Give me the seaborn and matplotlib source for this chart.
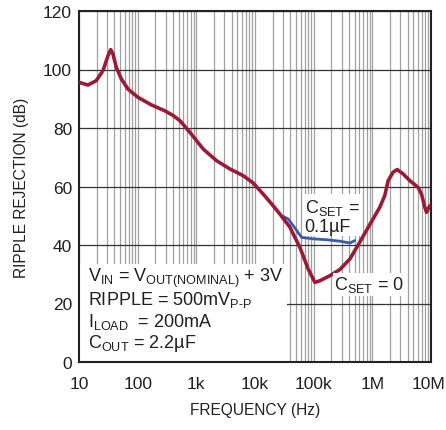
import numpy as np
import pandas as pd
import matplotlib
matplotlib.use("Agg")
import matplotlib.pyplot as plt
import matplotlib.ticker as mticker
import matplotlib.transforms as mtrans
from matplotlib.patches import Rectangle
import seaborn as sns

# C_SET = 0 curve
freq_c0 = [10, 14.2, 19.7, 25.6, 31.2, 34.7, 37.9, 43.2, 52.6, 68.4, 101,
           171, 289, 400, 526, 778, 1312, 2218, 3736, 6290, 9310, 13800,
           20400, 26500, 39300, 58200, 80600, 105000, 128000, 189000,
           279000, 414000, 612000, 906000, 1340000, 1630000, 1860000,
           2260000, 2650000, 3350000, 4350000, 6030000, 6890000, 7840000,
           8380000, 8930000, 9550000, 10000000]
rej_c0 = [95.6, 94.7, 96.2, 99.6, 104.7, 106.8, 105.3, 100.8, 96.8, 93.3,
          90.5, 87.9, 85.9, 84.3, 82.5, 78.5, 72.8, 68.8, 66, 63.7, 61.2,
          57.4, 53.4, 50.6, 46.1, 39.2, 31.8, 27.2, 27.8, 29.5, 31.6, 35.2,
          41, 47, 52.9, 56.9, 62, 64.9, 65.8, 64.3, 62, 59.7, 57.4, 52.9,
          51.2, 52.3, 53.4, 53.6]

# C_SET = 0.1uF curve (only where it leaves the other one)
freq_c1 = [30000, 36800, 47900, 62200, 98100, 166000, 279000, 414000,
           503000]
rej_c1 = [49.8, 48.9, 45.8, 42.6, 42.1, 41.8, 41.3, 40.7, 41.5]

x_ticks = [10, 100, 1e3, 1e4, 1e5, 1e6, 1e7]
x_labels = ["10", "100", "1k", "10k", "100k", "1M", "10M"]
y_ticks = [0, 20, 40, 60, 80, 100, 120]

RED = "#9b1b36"
BLUE = "#3b5ba9"
INK = "#231f20"

sns.set_style("white")
plt.rcParams["font.family"] = ["Liberation Sans", "DejaVu Sans"]
plt.rcParams["mathtext.fontset"] = "custom"
plt.rcParams["mathtext.rm"] = "Liberation Sans"
plt.rcParams["mathtext.default"] = "regular"
plt.rcParams["text.color"] = INK
plt.rcParams["axes.labelcolor"] = INK
plt.rcParams["xtick.color"] = INK
plt.rcParams["ytick.color"] = INK

df_c0 = pd.DataFrame({"freq": freq_c0, "rej": rej_c0})
df_c1 = pd.DataFrame({"freq": freq_c1, "rej": rej_c1})

fig = plt.figure(figsize=(4.46, 4.31), dpi=100)
pos = [79 / 446, 68 / 431, 352 / 446, 351 / 431]
ax = fig.add_axes(pos)

ax.set_xscale("log")
ax.set_xlim(10, 1e7)
ax.set_ylim(0, 120)

ax.set_xticks(x_ticks)
ax.set_xticklabels(x_labels)
ax.xaxis.set_minor_locator(mticker.LogLocator(base=10, subs=np.arange(2, 10),
                                              numticks=100))
ax.xaxis.set_minor_formatter(mticker.NullFormatter())
ax.set_yticks(y_ticks)

ax.set_axisbelow(True)
ax.grid(which="major", axis="y", color="#333333", lw=0.9)
ax.grid(which="both", axis="x", color="#a0a0a0", lw=0.9)

# white box behind the conditions text
ax.add_patch(Rectangle((10, 0), 35000 - 10, 33.5, facecolor="white",
                       edgecolor="none", zorder=0.7))

sns.lineplot(data=df_c1, x="freq", y="rej", ax=ax, color=BLUE, lw=2,
             sort=False, zorder=3)
sns.lineplot(data=df_c0, x="freq", y="rej", ax=ax, color=RED, lw=2.6,
             sort=False, zorder=4)

ax.tick_params(labelsize=12.5, direction="in", length=0)
ax.tick_params(axis="x", pad=10)
ax.tick_params(axis="y", pad=5)
ax.tick_params(which="minor", length=0)
for sp in ax.spines.values():
    sp.set_color("#222222")
    sp.set_linewidth(1.5)

# nudge "10M" a little left so it stays inside the figure
last = ax.get_xticklabels()[-1]
last.set_transform(last.get_transform() +
                   mtrans.ScaledTranslation(-2.5 / 100, 0, fig.dpi_scale_trans))

ax.set_xlabel("FREQUENCY (Hz)", fontsize=11.2, labelpad=8)
ax.set_ylabel("RIPPLE REJECTION (dB)", fontsize=11.2, labelpad=10)

# overlay that only carries the inward ticks drawn over the white box
ov = fig.add_axes(pos, sharex=ax, sharey=ax)
ov.patch.set_visible(False)
for sp in ov.spines.values():
    sp.set_visible(False)
ov.tick_params(which="both", direction="in", labelbottom=False,
               labelleft=False, color="#222222")
ov.tick_params(which="major", length=5, width=1)
ov.tick_params(which="minor", length=3, width=0.8)
ov.grid(False)

fs = 13
ax.text(14, 29, "V$_{IN}$ = V$_{OUT(NOMINAL)}$ + 3V", fontsize=fs,
        va="center", zorder=5)
ax.text(14, 21.5, "RIPPLE = 500mV$_{P\u2010P}$", fontsize=fs, va="center",
        zorder=5)
ax.text(14, 14, "I$_{LOAD}$  = 200mA", fontsize=fs, va="center", zorder=5)
ax.text(14, 6.5, "C$_{OUT}$ = 2.2µF", fontsize=fs, va="center", zorder=5)

ax.text(70000, 50, "C$_{SET}$ =\n0.1µF", fontsize=fs, va="center",
        linespacing=1.05, zorder=5,
        bbox=dict(facecolor="white", edgecolor="none", pad=1))
ax.text(225000, 26.5, "C$_{SET}$ = 0", fontsize=fs, va="center", zorder=5,
        bbox=dict(facecolor="white", edgecolor="none", pad=1))

fig.savefig("out.png", dpi=100)
